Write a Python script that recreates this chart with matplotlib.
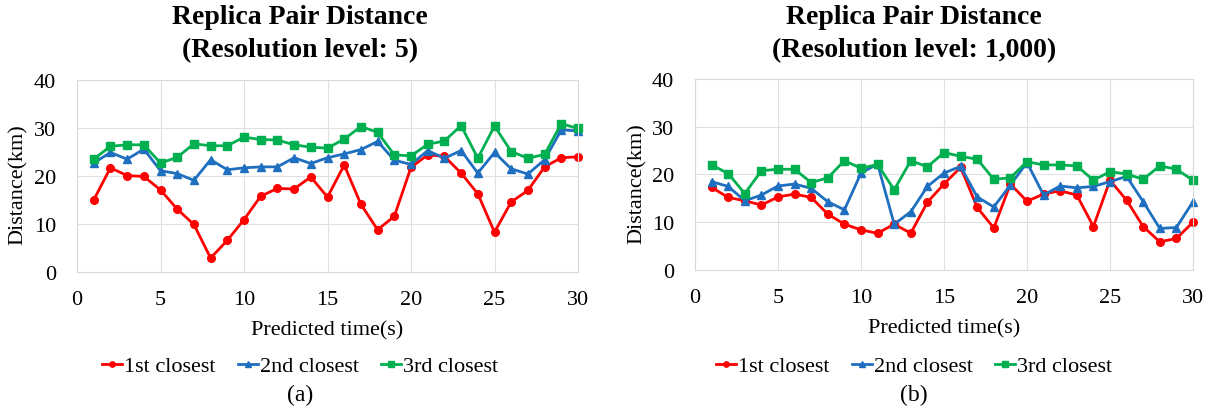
import matplotlib
matplotlib.use("Agg")
import matplotlib.pyplot as plt

# predicted time (s)
t = list(range(1, 31))

# (a) resolution level 5
res5_1st = [15.0, 21.7, 20.1, 19.9, 17.1, 13.1, 9.9, 2.9, 6.6, 10.9,
            15.8, 17.4, 17.3, 19.8, 15.6, 22.3, 14.1, 8.8, 11.6, 21.8,
            24.4, 24.1, 20.6, 16.3, 8.3, 14.6, 17.0, 21.9, 23.8, 24.0]
res5_2nd = [22.7, 24.9, 23.5, 25.6, 21.1, 20.5, 19.1, 23.4, 21.3, 21.7,
            21.9, 21.9, 23.8, 22.6, 23.8, 24.6, 25.5, 27.2, 23.3, 22.4,
            25.3, 23.7, 25.3, 20.6, 24.9, 21.5, 20.4, 23.4, 29.6, 29.4]
res5_3rd = [23.5, 26.2, 26.5, 26.5, 22.7, 23.9, 26.7, 26.3, 26.3, 28.1,
            27.6, 27.5, 26.5, 26.0, 25.8, 27.7, 30.3, 29.1, 24.4, 24.2,
            26.6, 27.3, 30.5, 23.7, 30.4, 25.1, 23.7, 24.5, 30.9, 29.9]

# (b) resolution level 1,000
res1000_1st = [17.3, 15.2, 14.5, 13.6, 15.3, 15.9, 15.2, 11.7, 9.6, 8.4,
               7.7, 9.6, 7.7, 14.2, 18.0, 21.5, 13.1, 8.8, 18.0, 14.4,
               15.9, 16.6, 15.7, 9.1, 18.8, 14.6, 9.1, 5.9, 6.6, 10.0]
res1000_2nd = [18.5, 17.5, 14.5, 15.7, 17.6, 18.0, 17.1, 14.3, 12.6, 20.3,
               22.2, 9.6, 12.2, 17.5, 20.3, 21.7, 15.3, 13.2, 17.8, 22.5,
               15.7, 17.6, 17.2, 17.5, 18.5, 19.6, 14.3, 8.7, 8.9, 14.3]
res1000_3rd = [22.0, 20.2, 16.0, 20.8, 21.1, 21.1, 18.3, 19.3, 22.9, 21.3,
               22.1, 16.8, 22.9, 21.6, 24.6, 23.8, 23.2, 19.0, 19.3, 22.7,
               22.0, 22.0, 21.8, 18.8, 20.6, 20.1, 19.0, 21.8, 21.1, 18.8]

series_names = ["1st closest", "2nd closest", "3rd closest"]
titles = ["Replica Pair Distance\n(Resolution level: 5)",
          "Replica Pair Distance\n(Resolution level: 1,000)"]
captions = ["(a)", "(b)"]

colors = ["#FF0000", "#1F6FC0", "#00B050"]
markers = ["o", "^", "s"]

plt.rcParams["font.family"] = ["Liberation Serif", "DejaVu Serif"]

W, H = 1212, 410
fig = plt.figure(figsize=(W / 100, H / 100), dpi=100)

# axes boxes in pixels: (left, top, right, bottom)
boxes = [(77, 81, 578, 273), (695, 80, 1193, 271)]
centers = [300, 914]
ylabel_x = [28, 647]
datasets = [[res5_1st, res5_2nd, res5_3rd],
            [res1000_1st, res1000_2nd, res1000_3rd]]

for i in range(2):
    l, tp, r, b = boxes[i]
    ax = fig.add_axes([l / W, 1 - b / H, (r - l) / W, (b - tp) / H])
    lines = []
    for j, ys in enumerate(datasets[i]):
        ln, = ax.plot(t, ys, color=colors[j], marker=markers[j], markersize=5.5,
                      linewidth=2.0, label=series_names[j], clip_on=False)
        lines.append(ln)
    ax.set_xlim(0, 30)
    ax.set_ylim(0, 40)
    ax.set_xticks(range(0, 31, 5))
    ax.set_yticks(range(0, 41, 10))
    ax.tick_params(length=0, labelsize=16)
    ax.tick_params(axis="x", pad=13)
    ax.tick_params(axis="y", pad=15)
    ax.grid(True, color="#E0E0E0", linewidth=0.8)
    ax.set_axisbelow(True)
    for sp in ax.spines.values():
        sp.set_color("#D9D9D9")
        sp.set_linewidth(0.8)
    ax.set_xlabel("Predicted time(s)", fontsize=16, labelpad=8)
    ax.set_ylabel("Distance(km)", fontsize=16)
    ax.yaxis.set_label_coords((ylabel_x[i] - l) / (r - l), 0.46)

    cx = centers[i] / W
    fig.text(cx, 1 - 34 / H, titles[i], ha="center", va="center",
             fontsize=20, fontweight="bold", linespacing=1.45)
    fig.legend(handles=lines, loc="center", bbox_to_anchor=(cx, 1 - 367 / H),
               ncol=3, frameon=False, fontsize=16, handlelength=0.9,
               handletextpad=0.1, columnspacing=1.0, markerscale=0.7)
    fig.text(cx, 1 - 395 / H, captions[i], ha="center", va="center", fontsize=17)

fig.savefig("out.png", dpi=100)
